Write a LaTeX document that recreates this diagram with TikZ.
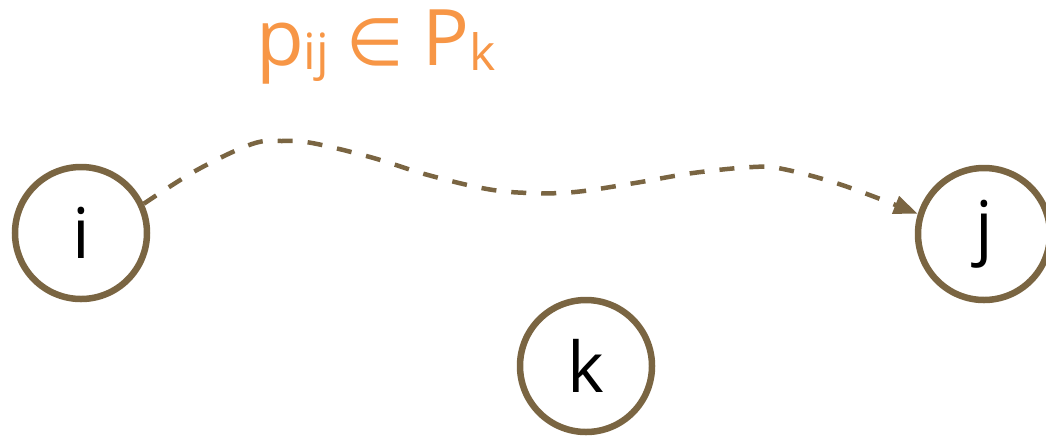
\documentclass[tikz,border=0pt]{standalone}
\usepackage{fontspec}
\setmainfont{Open Sans}
\newfontfamily\symbfont{DejaVu Sans}
\usetikzlibrary{arrows.meta}
\definecolor{nodebrown}{HTML}{7A6542}
\definecolor{labelorange}{HTML}{F79646}
\tikzset{
  vertex/.style={circle, draw=nodebrown, line width=6.5pt, minimum size=132pt, inner sep=0pt,
    font=\fontsize{70}{80}\selectfont, text=black},
  pathlink/.style={draw=nodebrown, line width=4.5pt, dash pattern=on 15pt off 15pt,
    -{Triangle[length=24pt,width=18pt]}},
  pathlabel/.style={text=labelorange, inner sep=0pt, anchor=base}
}
\begin{document}
\begin{tikzpicture}[x=1pt,y=-1pt]
\useasboundingbox (0,0) rectangle (1046,437);
\node[vertex] (i) at (81,233) {i};
\node[vertex] (j) at (984,234) {j};
\node[vertex] (k) at (586,366) {k};
\node[pathlabel] (lbl) at (376,65) {\fontsize{78}{80}\selectfont p\raisebox{-4pt}{\fontsize{50}{55}\selectfont ij}\hspace{17pt}{\symbfont\fontsize{66}{70}\selectfont ∈}\hspace{19pt}P\raisebox{-5pt}{\fontsize{50}{55}\selectfont k}};
\draw[pathlink] plot[smooth, tension=0.6] coordinates {(i.25) (197,170) (252,144) (282,141) (312,143) (370,157) (428,175) (487,189) (530,193) (575,192) (635,183) (693,173) (753,167) (783,169) (842,185) (j.163)};
\end{tikzpicture}
\end{document}
